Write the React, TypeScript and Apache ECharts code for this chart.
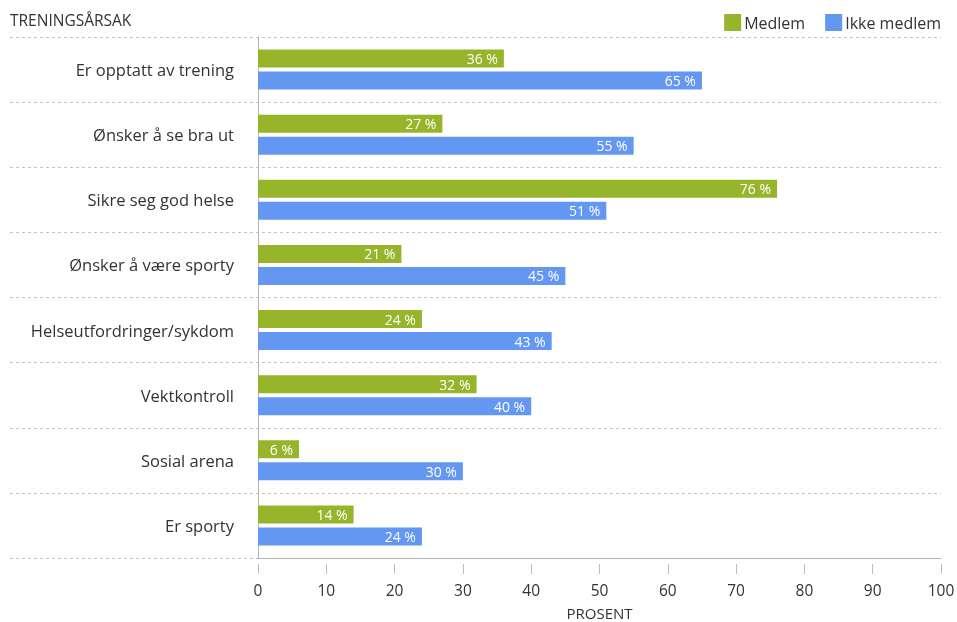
import React, { useEffect, useRef } from "react";
import * as echarts from "echarts";

const categories = [
  "Er opptatt av trening",
  "Ønsker å se bra ut",
  "Sikre seg god helse",
  "Ønsker å være sporty",
  "Helseutfordringer/sykdom",
  "Vektkontroll",
  "Sosial arena",
  "Er sporty",
];
const medlem = [36, 27, 76, 21, 24, 32, 6, 14];
const ikkeMedlem = [65, 55, 51, 45, 43, 40, 30, 24];
const seriesNames = ["Medlem", "Ikke medlem"];
const xTicks = { min: 0, max: 100, interval: 10 };

const FONT = "'Open Sans', sans-serif";
const TEXT = "#333";

export default function App() {
  const ref = useRef<HTMLDivElement>(null);
  useEffect(() => {
    if (!ref.current) return;
    const chart = echarts.init(ref.current, null, { renderer: "svg" });
    const gridTop = 37;
    const gridBottom = 64;
    const label = {
      show: true,
      position: "insideRight",
      distance: 6,
      color: "#fff",
      fontSize: 14,
      fontFamily: FONT,
      formatter: (p: any) => `${p.value} %`,
    };
    chart.setOption({
      animation: false,
      textStyle: { fontFamily: FONT },
      title: {
        text: "TRENINGSÅRSAK",
        left: 10,
        top: 12,
        padding: 0,
        textStyle: { fontSize: 15.5, fontWeight: "normal", color: TEXT, fontFamily: FONT },
      },
      legend: {
        right: 16,
        top: 14,
        padding: 0,
        icon: "rect",
        itemWidth: 17,
        itemHeight: 17,
        itemGap: 20,
        textStyle: { fontSize: 16, color: TEXT, fontFamily: FONT, padding: [0, 0, 0, -2] },
        data: seriesNames,
      },
      grid: [
        { left: 10, right: 16, top: gridTop, bottom: gridBottom, containLabel: false, outerBoundsMode: "none" },
        { left: 258, right: 16, top: gridTop, bottom: gridBottom, containLabel: false, outerBoundsMode: "none" },
      ],
      xAxis: [
        { gridIndex: 0, type: "value", show: false, min: 0, max: 1 },
        {
          gridIndex: 1,
          type: "value",
          min: xTicks.min,
          max: xTicks.max,
          interval: xTicks.interval,
          axisLine: { show: true, lineStyle: { color: "#b5b5b5", width: 1 } },
          axisTick: { show: false },
          axisLabel: { show: false },
          splitLine: { show: false },
        },
        {
          gridIndex: 1,
          type: "value",
          position: "bottom",
          offset: 6,
          min: xTicks.min,
          max: xTicks.max,
          interval: xTicks.interval,
          axisLine: { show: false },
          axisTick: { show: true, length: 10, lineStyle: { color: "#bdbdbd" } },
          axisLabel: { show: true, margin: 18, fontSize: 15.5, color: TEXT, fontFamily: FONT },
          splitLine: { show: false },
          name: "PROSENT",
          nameLocation: "middle",
          nameGap: 41,
          nameTextStyle: { fontSize: 15, color: TEXT, fontFamily: FONT },
        },
      ],
      yAxis: [
        {
          gridIndex: 0,
          type: "value",
          min: 0,
          max: categories.length,
          interval: 1,
          axisLine: { show: false },
          axisTick: { show: false },
          axisLabel: { show: false },
          splitLine: { show: true, lineStyle: { color: "#c4c4c4", type: [3, 3], width: 1 } },
        },
        {
          gridIndex: 1,
          type: "category",
          data: categories,
          inverse: true,
          axisLine: { show: true, lineStyle: { color: "#b5b5b5", width: 1 } },
          axisTick: { show: false },
          axisLabel: { margin: 24, fontSize: 16.5, color: TEXT, fontFamily: FONT, padding: [4, 0, 0, 0] },
        },
      ],
      series: [
        {
          name: seriesNames[0],
          type: "bar",
          xAxisIndex: 1,
          yAxisIndex: 1,
          data: medlem,
          barWidth: 18,
          barGap: "22%",
          itemStyle: { color: "#97b52a" },
          label,
        },
        {
          name: seriesNames[1],
          type: "bar",
          xAxisIndex: 1,
          yAxisIndex: 1,
          data: ikkeMedlem,
          barWidth: 18,
          barGap: "22%",
          itemStyle: { color: "#6397f2" },
          label,
        },
      ],
    });
    return () => chart.dispose();
  }, []);
  return <div ref={ref} style={{ width: 957, height: 622, position: "fixed", left: 0, top: 0 }} />;
}
